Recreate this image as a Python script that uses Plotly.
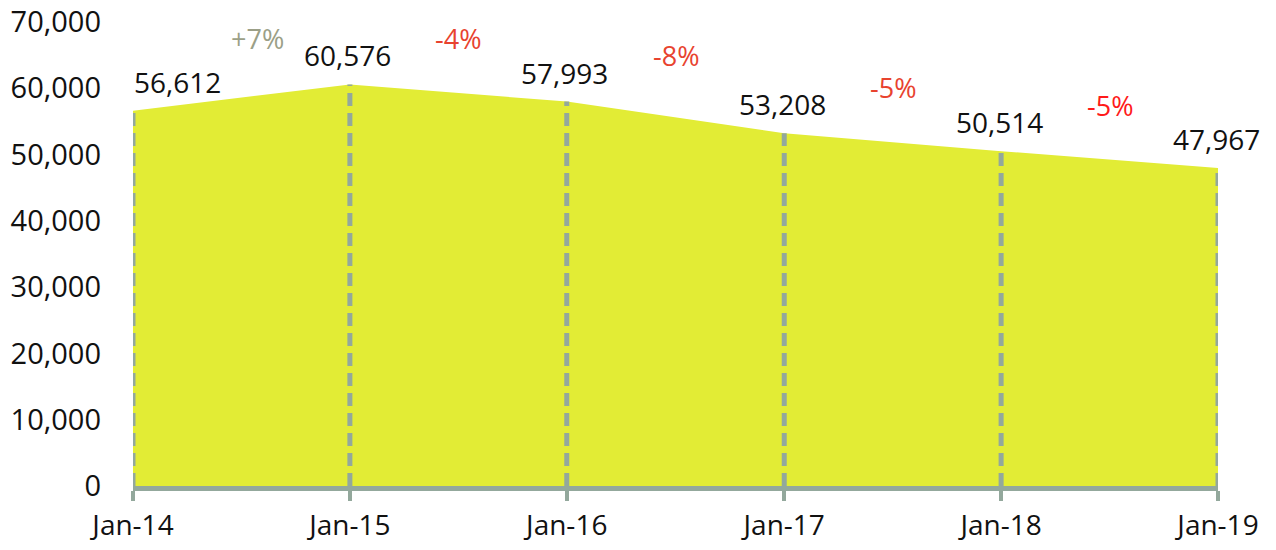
import plotly.graph_objects as go
import pandas as pd

dates = ["2014-01-01", "2015-01-01", "2016-01-01", "2017-01-01", "2018-01-01", "2019-01-01"]
tick_labels = ["Jan-14", "Jan-15", "Jan-16", "Jan-17", "Jan-18", "Jan-19"]
values = [56612, 60576, 57993, 53208, 50514, 47967]
pct_colors = ["#9b9f87", "#e8432f", "#e8432f", "#e8432f", "#ff1a1a"]

FONT = "Open Sans"
GRID = "#93a89c"

fig = go.Figure()
fig.add_trace(go.Scatter(
    x=dates, y=values, mode="lines", fill="tozeroy",
    fillcolor="#e2ec35", line=dict(width=0, color="#e2ec35"),
    hoverinfo="skip", showlegend=False,
))
# vertical dashed drop lines
for d, v in zip(dates, values):
    fig.add_trace(go.Scatter(
        x=[d, d], y=[0, v], mode="lines",
        line=dict(color=GRID, width=5, dash="13px,7px"),
        hoverinfo="skip", showlegend=False,
    ))

# value labels
for i, (d, v) in enumerate(zip(dates, values)):
    fig.add_annotation(
        x=d, y=v, text=f"{v:,}", showarrow=False,
        yshift=29, xshift=44 if i == 0 else -2,
        font=dict(family=FONT, size=28, color="#111111"),
    )

# percent change labels
dt = pd.to_datetime(dates)
for i in range(len(values) - 1):
    pct = round((values[i + 1] / values[i] - 1) * 100)
    txt = f"+{pct}%" if pct > 0 else f"{pct}%"
    mid = dt[i] + (dt[i + 1] - dt[i]) / 2
    fig.add_annotation(
        x=mid, y=max(values[i], values[i + 1]), text=txt, showarrow=False,
        yshift=46, xshift=16 if i == 0 else 0,
        font=dict(family=FONT, size=27, color=pct_colors[i]),
    )

fig.update_layout(
    width=1276, height=550,
    margin=dict(l=125, r=66, t=14, b=72),
    paper_bgcolor="white", plot_bgcolor="white",
    font=dict(family=FONT, size=28, color="#111111"),
    xaxis=dict(
        type="date", automargin=False,
        tickvals=dates, ticktext=tick_labels,
        range=[dates[0], dates[-1]],
        showgrid=False, zeroline=False,
        showline=True, linecolor=GRID, linewidth=5,
        ticks="outside", ticklen=10, tickwidth=4, tickcolor=GRID,
        tickfont=dict(family=FONT, size=28, color="#111111"),
        ticklabeloverflow="allow",
    ),
    yaxis=dict(
        automargin=False,
        range=[0, 70000], tickvals=[0, 10000, 20000, 30000, 40000, 50000, 60000, 70000],
        tickformat=",", showgrid=False, zeroline=False, showline=False,
        ticklabelstandoff=31, ticklabeloverflow="allow",
        tickfont=dict(family=FONT, size=29, color="#111111"),
    ),
)

fig.write_html("out.html")
